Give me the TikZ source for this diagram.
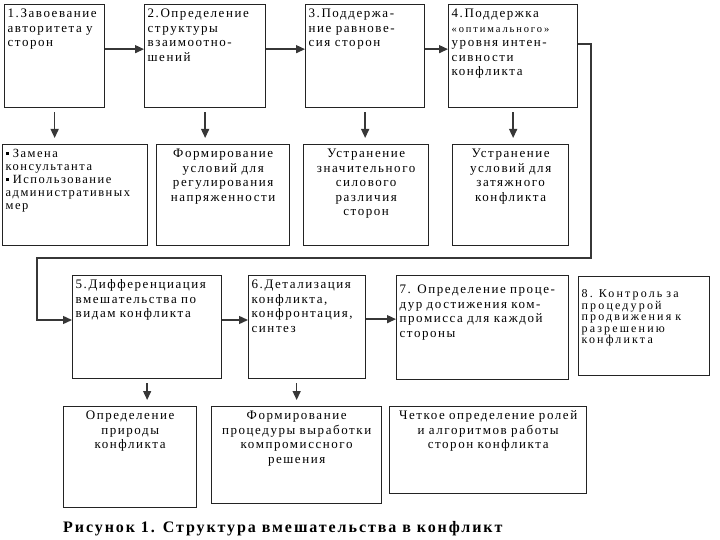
\documentclass[tikz,border=0pt]{standalone}
\usepackage{fontspec}
\setmainfont{Liberation Serif}
\newfontfamily\boxfont[LetterSpace=12]{Liberation Serif}
\newfontfamily\widefont[LetterSpace=18]{Liberation Serif}
\newfontfamily\capfont[LetterSpace=12]{Liberation Serif}
\usetikzlibrary{arrows.meta,positioning}
\definecolor{boxline}{RGB}{35,35,35}
\definecolor{arrowline}{RGB}{55,55,55}

\begin{document}
\begin{tikzpicture}[x=1pt, y=-1pt, >={Triangle[length=9pt,width=8pt]},
  stage/.style={draw=boxline, line width=1.3pt, anchor=north west,
    inner xsep=3pt, inner ysep=4pt, align=left, text height=9pt,
    font=\boxfont\fontsize{13}{14.5}\selectfont},
  result/.style={stage, align=center},
  flow/.style={draw=arrowline, line width=1.4pt, ->},
  down/.style={flow, shorten <=4pt, shorten >=6pt}]

  \useasboundingbox (0,0) rectangle (720,540);

  % ============================================================
  % TOP ROW: stages 1--4
  % ============================================================
  \node[stage, text width=94pt, text depth=86pt] (s1) at (4,4)
    {1.Завоевание\\авторитета у\\сторон};
  \node[stage, text width=115pt, text depth=86pt] (s2) at (144,4)
    {2.Определение\\структуры\\взаимоотно-\\шений};
  \node[stage, text width=113pt, text depth=86pt] (s3) at (305,4)
    {3.Поддержа-\\ние равнове-\\сия сторон};
  \node[stage, text width=123pt, text depth=86pt] (s4) at (448,4)
    {4.Поддержка\\{\widefont\fontsize{10.5}{12}\selectfont «оптимального»}\\уровня интен-\\сивности\\конфликта};

  % Arrows between stages
  \draw[flow] ([yshift=7pt]s1.east) -- ([yshift=7pt]s2.west);
  \draw[flow] ([yshift=7pt]s2.east) -- ([yshift=7pt]s3.west);
  \draw[flow] ([yshift=7pt]s3.east) -- ([yshift=7pt]s4.west);

  % ============================================================
  % SECOND ROW: measures of stages 1--4
  % ============================================================
  \node[stage, text width=139pt, text depth=84pt,
        font=\boxfont\fontsize{12.5}{13}\selectfont] (m1) at (2,144)
    {\rule[2.5pt]{3pt}{3pt} Замена\\консультанта\\\rule[2.5pt]{3pt}{3pt} Использование\\административных\\мер};
  \node[result, text width=127pt, text depth=84pt] (m2) at (156,144)
    {Формирование\\условий для\\регулирования\\напряженности};
  \node[result, text width=119pt, text depth=84pt] (m3) at (303,144)
    {Устранение\\значительного\\силового\\различия\\сторон};
  \node[result, text width=110pt, text depth=84pt] (m4) at (452,144)
    {Устранение\\условий для\\затяжного\\конфликта};

  \draw[down] (s1.south) -- (s1.south |- m1.north);
  \draw[down] (s2.south) -- (s2.south |- m2.north);
  \draw[down] (s3.south) -- (s3.south |- m3.north);
  \draw[down] (s4.south) -- (s4.south |- m4.north);

  % ============================================================
  % THIRD ROW: stages 5--8
  % ============================================================
  \node[stage, text width=143pt, text depth=86pt] (s5) at (72,275)
    {5.Дифференциация\\вмешательства по\\видам конфликта};
  \node[stage, text width=111pt, text depth=86pt] (s6) at (248,275)
    {6.Детализация\\конфликта,\\конфронтация,\\синтез};
  \node[stage, text width=166pt, text height=14pt, text depth=82pt] (s7) at (396,275)
    {7. Определение проце-\\дур достижения ком-\\промисса для каждой\\стороны};
  \node[stage, text width=125pt, text height=17pt, text depth=74pt,
        font=\widefont\fontsize{12}{11.5}\selectfont] (s8) at (578,276)
    {8. Контроль за\\процедурой\\продвижения к\\разрешению\\конфликта};

  % Return line from stage 4 to stage 5
  \coordinate (backtop) at (591,258);
  \coordinate (backleft) at (37,320);
  \draw[flow] ([yshift=12pt]s4.east) -| (backtop) -| (backleft)
    -- (backleft -| s5.west);

  \draw[flow] (backleft -| s5.east) -- (backleft -| s6.west);
  \draw[flow] ([yshift=8pt]s6.east) -- ([yshift=8pt]s6.east -| s7.west);

  % ============================================================
  % BOTTOM ROW: measures of stages 5--7
  % ============================================================
  \node[result, text width=127pt, text depth=84pt] (m5) at (63,406)
    {Определение\\природы\\конфликта};
  \node[result, text width=164pt, text depth=80pt] (m6) at (211,406)
    {Формирование\\процедуры выработки\\компромиссного\\решения};
  \node[result, text width=191pt, text depth=70pt] (m7) at (389,406)
    {Четкое определение ролей\\и алгоритмов работы\\сторон конфликта};

  \draw[down] (s5.south) -- (s5.south |- m5.north);
  \draw[down] (s6.south -| m6.north) -- (m6.north);

  % Caption
  \node[font=\capfont\bfseries\fontsize{16}{18}\selectfont, anchor=base west,
        inner sep=0pt] (caption) at (63,532)
    {Рисунок 1. Структура вмешательства в конфликт};

\end{tikzpicture}
\end{document}
